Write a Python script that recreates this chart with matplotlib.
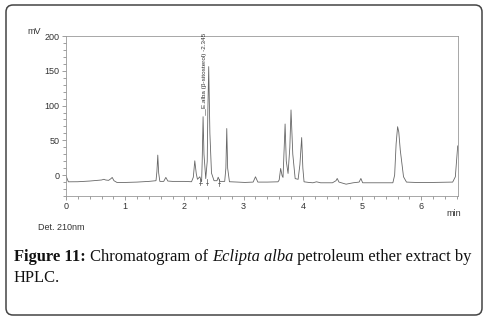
import numpy as np
import matplotlib.pyplot as plt
from matplotlib.patches import FancyBboxPatch
from matplotlib.transforms import IdentityTransform

# chromatogram trace vertices (time in min, signal in mV)
time_min = [0.00, 0.04, 0.20, 0.40, 0.60, 0.64, 0.67, 0.72, 0.76, 0.78, 0.81, 0.86,
            1.00, 1.20, 1.40, 1.52, 1.535, 1.55, 1.565, 1.585, 1.65, 1.686, 1.72, 1.80,
            2.00, 2.12, 2.15, 2.175, 2.20, 2.22, 2.26, 2.29, 2.30, 2.315, 2.33, 2.36,
            2.385, 2.395, 2.41, 2.43, 2.457, 2.50, 2.55, 2.57, 2.60, 2.68, 2.70, 2.715,
            2.73, 2.76, 2.90, 3.02, 3.16, 3.20, 3.24, 3.40, 3.58, 3.60, 3.625, 3.65,
            3.665, 3.685, 3.70, 3.72, 3.75, 3.78, 3.80, 3.83, 3.87, 3.92, 3.95, 3.98,
            4.00, 4.02, 4.10, 4.17, 4.23, 4.30, 4.50, 4.56, 4.58, 4.61, 4.73, 4.85,
            4.95, 4.98, 5.01, 5.20, 5.40, 5.52, 5.55, 5.575, 5.60, 5.62, 5.645, 5.70,
            5.75, 5.90, 6.20, 6.53, 6.575, 6.615]
signal_mv = [-1, -9.6, -9.5, -8.5, -7, -6, -7, -7.5, -5, -3.3, -8, -10.5,
             -10.5, -10, -9, -8, 5, 28.8, 3, -9, -9, -3.3, -8.5, -9,
             -9, -9.5, -3, 20.6, 2, -6, -2.4, -9.6, 20, 84, 30, -5,
             20, 90, 156, 60, 3, -8, -8, -3, -9, -9, 10, 67,
             10, -9.5, -10, -10.5, -10, -2.4, -10, -10, -9.6, -7, 9.6, -1,
             -3.3, 40, 73.5, 20, 2.4, 40, 93.7, 30, -5, -6, 15, 54,
             10, -9.6, -10.5, -11, -9.6, -11, -11, -8, -4.8, -10, -13, -11,
             -10, -4.8, -11, -11, -11, -11, 0, 45, 69.6, 62, 36, -2.4,
             -10, -10.5, -10.5, -10, -2.4, 42]

# integration marks near the baseline
mark_times = [2.27, 2.38, 2.585]
mark_mv = [-9.5, -9.5, -10]

peak_label = "E.alba (β-sitosterol) -2.345"
peak_label_time = 2.345

x_major = [0, 1, 2, 3, 4, 5, 6]
y_major = [0, 50, 100, 150, 200]

fig = plt.figure(figsize=(4.9, 3.21), dpi=100)
ax = fig.add_axes([66 / 490, 1 - 196 / 321, (458 - 66) / 490, (196 - 36) / 321])

ax.plot(time_min, signal_mv, color='#666666', lw=0.6)
for t, v in zip(mark_times, mark_mv):
    ax.plot([t, t], [v + 4, v - 5], color='#555555', lw=0.5)
    ax.plot([t - 0.02, t + 0.02], [v - 1.5, v - 1.5], color='#555555', lw=0.5)

ax.text(peak_label_time, 97, peak_label, rotation=90, ha='center', va='bottom',
        fontsize=4.6, family='Liberation Sans', color='#333333')
ax.plot([peak_label_time, peak_label_time], [95, 86], color='#555555', lw=0.4)

ax.set_xlim(0, 6.62)
ax.set_ylim(-30, 200)
ax.set_xticks(x_major)
ax.set_yticks(y_major)
ax.set_xticks(np.arange(0, 6.61, 0.2), minor=True)
ax.set_yticks(np.arange(-30, 201, 10), minor=True)
ax.tick_params(which='both', direction='out', color='#777777', width=0.5,
               labelsize=6.5, labelcolor='#333333', pad=1.5)
ax.tick_params(which='major', length=3)
ax.tick_params(which='minor', length=2)
for lab in ax.get_xticklabels() + ax.get_yticklabels():
    lab.set_family('Liberation Sans')
for sp in ax.spines.values():
    sp.set_color('#999999')
    sp.set_linewidth(0.6)

txt = dict(fontsize=6.5, family='Liberation Sans', color='#333333')
fig.text(27 / 490, 1 - 32 / 321, "mV", ha='left', va='center', **txt)
fig.text(446 / 490, 1 - 213 / 321, "min", ha='left', va='center', **txt)
fig.text(38 / 490, 1 - 227 / 321, "Det. 210nm", ha='left', va='center', **txt)

# rounded frame
box = FancyBboxPatch((6, 6), 476, 310, boxstyle="round,pad=0,rounding_size=7",
                     transform=IdentityTransform(), facecolor='none',
                     edgecolor='#444444', lw=1.1)
fig.patches.append(box)

# caption, built piece by piece
cap = dict(fontsize=11.9, family='Liberation Serif', color='#111111')
pieces = [("Figure 11:", 'bold', 'normal'),
          (" Chromatogram of ", 'normal', 'normal'),
          ("Eclipta alba", 'normal', 'italic'),
          (" petroleum ether extract by", 'normal', 'normal')]
fig.canvas.draw()
renderer = fig.canvas.get_renderer()
x = 14
y1 = 1 - 261 / 321
for s, w, st in pieces:
    t = fig.text(x / 490, y1, s, ha='left', va='baseline', weight=w, style=st, **cap)
    x = t.get_window_extent(renderer).x1
fig.text(14 / 490, 1 - 282 / 321, "HPLC.", ha='left', va='baseline', **cap)

fig.savefig("out.png", dpi=100)
